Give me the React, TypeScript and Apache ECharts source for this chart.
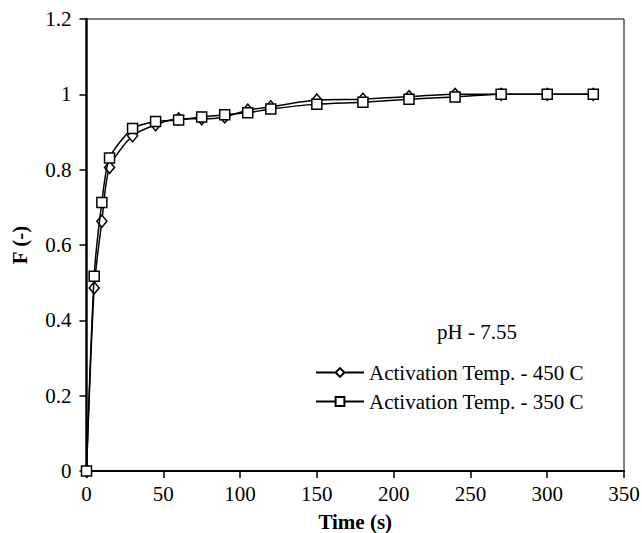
import React, { useEffect, useRef } from "react";
import * as echarts from "echarts";

const times = [0, 5, 10, 15, 30, 45, 60, 75, 90, 105, 120, 150, 180, 210, 240, 270, 300, 330];
const f450 = [0, 0.486, 0.663, 0.806, 0.89, 0.919, 0.935, 0.935, 0.94, 0.958, 0.967, 0.985, 0.987, 0.994, 1.0, 1.0, 1.0, 1.0];
const f350 = [0, 0.517, 0.713, 0.831, 0.909, 0.928, 0.932, 0.94, 0.946, 0.951, 0.961, 0.974, 0.979, 0.987, 0.993, 1.0, 1.0, 1.0];
const seriesNames = ["Activation Temp. - 450 C", "Activation Temp. - 350 C"];
const annotation = "pH - 7.55";

const FONT = "Times New Roman, Liberation Serif, serif";
const FS = 21;

export default function App() {
  const ref = useRef<HTMLDivElement>(null);
  useEffect(() => {
    if (!ref.current) return;
    const chart = echarts.init(ref.current, undefined, { renderer: "svg" });
    const pair = (ys: number[]) => times.map((t, i) => [t, ys[i]]);
    chart.setOption({
      animation: false,
      backgroundColor: "#fff",
      textStyle: { fontFamily: FONT, color: "#000" },
      grid: {
        left: 86.5,
        right: 18,
        top: 19,
        bottom: 62,
        containLabel: false,
        outerBoundsMode: "none",
        show: true,
        borderColor: "#000",
        borderWidth: 1,
      },
      xAxis: {
        type: "value",
        min: 0,
        max: 350,
        interval: 50,
        name: "Time (s)",
        nameLocation: "middle",
        nameGap: 40,
        nameTextStyle: { fontFamily: FONT, fontSize: FS, fontWeight: "bold", color: "#000" },
        axisLine: { show: true, onZero: false, lineStyle: { color: "#000", width: 2 } },
        axisTick: { show: true, inside: false, length: 7, lineStyle: { color: "#000", width: 1.5 } },
        axisLabel: { fontFamily: FONT, fontSize: FS, color: "#000", margin: 12 },
        splitLine: { show: false },
      },
      yAxis: {
        type: "value",
        min: 0,
        max: 1.2,
        interval: 0.2,
        name: "F (-)",
        nameLocation: "middle",
        nameGap: 56,
        nameRotate: 90,
        nameTextStyle: { fontFamily: FONT, fontSize: FS, fontWeight: "bold", color: "#000" },
        axisLine: { show: true, onZero: false, lineStyle: { color: "#000", width: 2.5 } },
        axisTick: { show: true, inside: false, length: 7, lineStyle: { color: "#000", width: 1.5 } },
        axisLabel: {
          fontFamily: FONT,
          fontSize: FS,
          color: "#000",
          margin: 15,
          formatter: (v: number) => String(Math.round(v * 10) / 10),
        },
        splitLine: { show: false },
      },
      legend: {
        orient: "vertical",
        left: 310,
        top: 357,
        itemWidth: 48,
        itemHeight: 11,
        itemGap: 8,
        textStyle: { fontFamily: FONT, fontSize: FS, color: "#000" },
        data: seriesNames,
      },
      graphic: [
        {
          type: "text",
          left: 437,
          top: 321,
          style: { text: annotation, fontFamily: FONT, fontSize: FS, fill: "#000" },
        },
      ],
      series: [
        {
          name: seriesNames[0],
          type: "line",
          data: pair(f450),
          smooth: 0.25,
          symbol: "diamond",
          symbolSize: [10, 12],
          lineStyle: { color: "#000", width: 1.5 },
          itemStyle: { color: "#fff", borderColor: "#000", borderWidth: 1.5 },
          z: 2,
        },
        {
          name: seriesNames[1],
          type: "line",
          data: pair(f350),
          smooth: 0.25,
          symbol: "rect",
          symbolSize: 10,
          lineStyle: { color: "#000", width: 1.5 },
          itemStyle: { color: "#fff", borderColor: "#000", borderWidth: 1.5 },
          z: 3,
        },
      ],
    });
    return () => chart.dispose();
  }, []);
  return (
    <div
      ref={ref}
      style={{ position: "absolute", left: 0, top: 0, width: 642, height: 533 }}
    />
  );
}
